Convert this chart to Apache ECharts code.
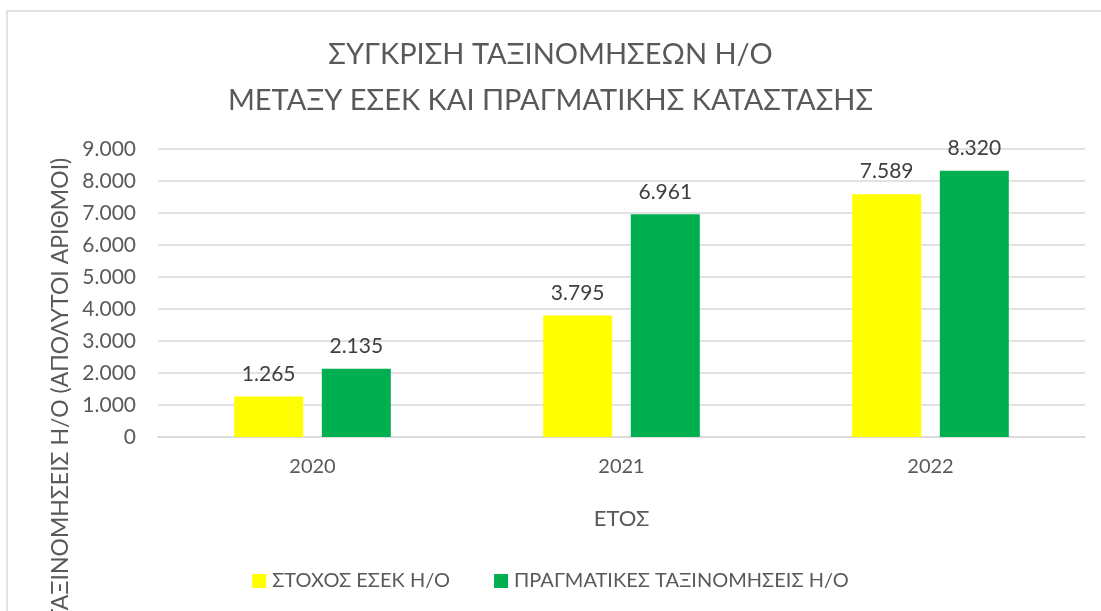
<!DOCTYPE html>
<html>
<head>
<meta charset="utf-8">
<script src="https://cdn.jsdelivr.net/npm/echarts@6/dist/echarts.min.js"></script>
<style>
  html, body { margin: 0; padding: 0; background: #fff; }
  #main { width: 1101px; height: 611px; }
</style>
</head>
<body>
<div id="main"></div>
<script>
// δεδομένα
var years = ['2020', '2021', '2022'];
var targetValues = [1265, 3795, 7589];
var actualValues = [2135, 6961, 8320];
var seriesNames = ['ΣΤΟΧΟΣ ΕΣΕΚ Η/Ο', 'ΠΡΑΓΜΑΤΙΚΕΣ ΤΑΞΙΝΟΜΗΣΕΙΣ Η/Ο'];

var FONT = 'Lato';

// μορφή αριθμού με τελεία για χιλιάδες
var fmt = function (v) {
    return String(v).replace(/\B(?=(\d{3})+(?!\d))/g, '.');
};

var chart = echarts.init(document.getElementById('main'));

var labelOpt = {
    show: true,
    position: 'top',
    distance: 12,
    color: '#404040',
    fontFamily: FONT,
    fontSize: 21,
    formatter: function (p) { return fmt(p.value); }
};

var option = {
    animation: false,
    title: {
        text: 'ΣΥΓΚΡΙΣΗ ΤΑΞΙΝΟΜΗΣΕΩΝ Η/Ο\nΜΕΤΑΞΥ ΕΣΕΚ ΚΑΙ ΠΡΑΓΜΑΤΙΚΗΣ ΚΑΤΑΣΤΑΣΗΣ',
        left: 'center',
        top: 27,
        textStyle: {
            color: '#595959',
            fontFamily: FONT,
            fontWeight: 'normal',
            fontSize: 29,
            lineHeight: 46
        }
    },
    legend: {
        data: seriesNames,
        bottom: 15,
        left: 'center',
        itemWidth: 14,
        itemHeight: 14,
        itemGap: 44,
        icon: 'rect',
        textStyle: { color: '#595959', fontFamily: FONT, fontSize: 20, padding: [0, 0, 0, 1] }
    },
    grid: { left: 158, right: 16, top: 149, bottom: 174 },
    xAxis: {
        type: 'category',
        data: years,
        name: 'ΕΤΟΣ',
        nameLocation: 'middle',
        nameGap: 71,
        nameTextStyle: { color: '#595959', fontFamily: FONT, fontSize: 22 },
        axisLine: { lineStyle: { color: '#d9d9d9', width: 1.5 } },
        axisTick: { show: false },
        axisLabel: { color: '#595959', fontFamily: FONT, fontSize: 20, margin: 20 }
    },
    yAxis: {
        type: 'value',
        min: 0,
        max: 9000,
        interval: 1000,
        axisLine: { show: false },
        axisTick: { show: false },
        splitLine: { lineStyle: { color: '#d9d9d9', width: 1.5 } },
        axisLabel: {
            color: '#595959',
            fontFamily: FONT,
            fontSize: 21,
            margin: 22,
            formatter: function (v) { return fmt(v); }
        }
    },
    graphic: [
        {
            type: 'polyline',
            shape: { points: [[7, 620], [7, 11], [1110, 11]] },
            style: { stroke: '#d9d9d9', lineWidth: 1.5, fill: null },
            silent: true
        },
        {
            type: 'text',
            x: 61,
            y: 390,
            rotation: Math.PI / 2,
            style: {
                text: 'ΤΑΞΙΝΟΜΗΣΕΙΣ Η/Ο (ΑΠΟΛΥΤΟΙ ΑΡΙΘΜΟΙ)',
                fill: '#595959',
                font: '23px ' + FONT,
                align: 'center',
                verticalAlign: 'middle'
            }
        }
    ],
    series: [
        {
            name: seriesNames[0],
            type: 'bar',
            data: targetValues,
            barWidth: 69,
            barGap: '27%',
            itemStyle: { color: '#FFFF00' },
            label: labelOpt
        },
        {
            name: seriesNames[1],
            type: 'bar',
            data: actualValues,
            barWidth: 69,
            itemStyle: { color: '#00B050' },
            label: labelOpt
        }
    ]
};

chart.setOption(option);
</script>
</body>
</html>
